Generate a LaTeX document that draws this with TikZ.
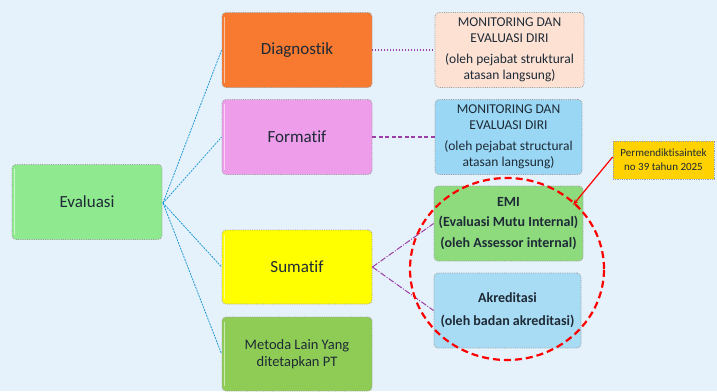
\documentclass[tikz,border=0pt]{standalone}
\usepackage{fontspec}
\setmainfont{Carlito}[Ligatures=NoCommon]
\usetikzlibrary{arrows.meta,positioning,shapes.geometric}
\definecolor{bgblue}{HTML}{E6F2FB}
\definecolor{evalgreen}{HTML}{8FE98F}
\definecolor{diagorange}{HTML}{F87A30}
\definecolor{formpink}{HTML}{EE9DEB}
\definecolor{sumyellow}{HTML}{FFFF00}
\definecolor{metgreen}{HTML}{8FCC55}
\definecolor{peach}{HTML}{FDE2D4}
\definecolor{skyblue}{HTML}{99D7F4}
\definecolor{emigreen}{HTML}{8EDB7E}
\definecolor{akrblue}{HTML}{A8DCF4}
\definecolor{gold}{HTML}{FFD200}
\definecolor{linkblue}{HTML}{1F9AD6}
\definecolor{linkpurple}{HTML}{9A3FA6}
\definecolor{txt}{HTML}{1E2A36}
\tikzset{
  box/.style={draw=gray!75, densely dotted, line width=0.8pt, rounded corners=4pt,
    minimum width=#1pt, align=center, text=txt, inner sep=2pt},
  box/.default=150,
  link/.style={linkblue, line width=0.8pt, densely dashed, dash pattern=on 2pt off 1pt},
  sublink/.style={linkpurple, line width=1pt},
  bevel/.style={white, opacity=0.55, line width=1.4pt},
}
\begin{document}
\begin{tikzpicture}[x=1pt,y=-1pt]
  \fill[bgblue] (0,0) rectangle (717,391);
  \useasboundingbox (0,0) rectangle (717,391);

  % root and first level
  \node[box=150, fill=evalgreen, minimum height=75pt, font=\fontsize{17}{19}\selectfont] (eval) at (87,202) {Evaluasi};
  \node[box=150, fill=diagorange, minimum height=75pt, font=\fontsize{17}{19}\selectfont] (diag) at (297,50) {Diagnostik};
  \node[box=150, fill=formpink, minimum height=75pt, font=\fontsize{17}{19}\selectfont] (form) at (297,137) {Formatif};
  \node[box=150, fill=sumyellow, minimum height=74pt, font=\fontsize{17}{19}\selectfont] (sum) at (297,267) {Sumatif};
  \node[box=150, fill=metgreen, minimum height=74pt, font=\fontsize{14.5}{17}\selectfont] (met) at (297,354) {Metoda Lain Yang\\ditetapkan PT};

  % light edge on the left of each block
  \foreach \b in {eval,diag,form,sum,met}
    \draw[bevel] ([xshift=3pt,yshift=-5pt]\b.north west) -- ([xshift=3pt,yshift=5pt]\b.south west);

  % second level
  \node[box=149, fill=peach, minimum height=75pt, font=\fontsize{13.5}{16.5}\selectfont] (mon1) at (509.5,50)
    {MONITORING DAN\\EVALUASI DIRI\\[4pt](oleh pejabat struktural\\atasan langsung)};
  \node[box=147, fill=skyblue, minimum height=75pt, font=\fontsize{13.5}{16.5}\selectfont] (mon2) at (508.5,137)
    {MONITORING DAN\\EVALUASI DIRI\\[4pt](oleh pejabat structural\\atasan langsung)};
  \node[box=149, fill=emigreen, minimum height=75pt, font=\bfseries\fontsize{14}{20.5}\selectfont] (emi) at (508.5,223.5)
    {EMI\\(Evaluasi Mutu Internal)\\(oleh Assessor internal)};
  \node[box=147, fill=akrblue, minimum height=75pt, font=\bfseries\fontsize{14}{23}\selectfont] (akr) at (507.5,310.5)
    {Akreditasi\\(oleh badan akreditasi)};

  % regulation note
  \node[box=101, fill=gold, minimum height=38pt, rounded corners=0pt, inner sep=1pt, font=\fontsize{11}{14}\selectfont] (perm) at (663.5,160)
    {Permendiktisaintek\\no 39 tahun 2025};

  % connectors from the root
  \coordinate (hub) at (163,203);
  \foreach \t in {diag,form,sum,met}
    \draw[link] (hub) -- (\t.west);

  % connectors to the second level
  \draw[sublink, dotted, line width=1.4pt] (diag.east) -- (mon1.west);
  \draw[sublink, line width=1.2pt, dash pattern=on 4pt off 2.5pt] (form.east) -- (mon2.west);
  \draw[sublink, dash pattern=on 6pt off 1.5pt on 1pt off 1.5pt] (sum.east) -- (emi.west);
  \draw[sublink, dash pattern=on 6pt off 1.5pt on 1pt off 1.5pt] (sum.east) -- (akr.west);

  % highlight around the summative outcomes
  \node[draw=red, line width=2.2pt, dash pattern=on 7pt off 4pt, ellipse, minimum width=194pt, minimum height=182pt] (ring) at (507,269) {};
  \coordinate (tip) at (573,205);
  \draw[red, line width=1.2pt, -{Stealth[length=6pt]}] (perm.west) ++(0,-3) -- (tip);
\end{tikzpicture}
\end{document}
